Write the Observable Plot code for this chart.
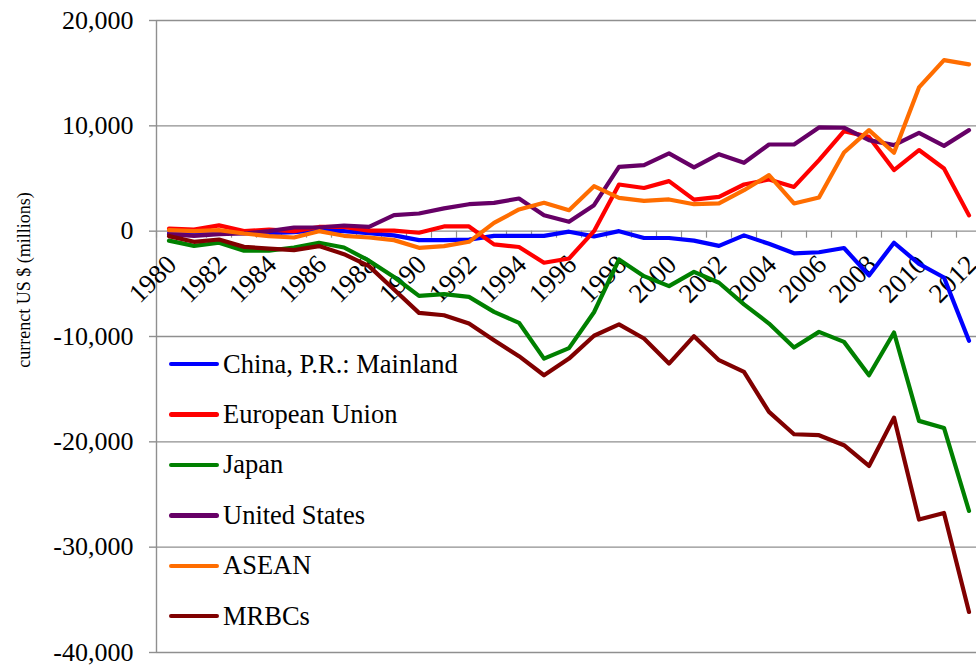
<!DOCTYPE html>
<html>
<head>
<meta charset="utf-8">
<script src="https://cdn.jsdelivr.net/npm/d3@7"></script>
<script src="https://cdn.jsdelivr.net/npm/@observablehq/plot@0.6"></script>
<style>
html, body { margin: 0; padding: 0; background: #fff; overflow: hidden; }
#wrap { position: relative; width: 976px; height: 671px; }
#legend { position: absolute; left: 169px; top: 339px; font-family: "Liberation Serif", Tinos, "Times New Roman", "DejaVu Serif", serif; font-size: 26.5px; color: #000; }
.row { display: flex; align-items: center; height: 50.4px; white-space: nowrap; }
.sw { width: 50px; height: 4.5px; border-radius: 3px; margin-right: 4px; }
#ytitle { position: absolute; left: 24px; top: 280px; transform: translate(-50%, -50%) rotate(-90deg); font-family: "Liberation Serif", Tinos, "Times New Roman", "DejaVu Serif", serif; font-size: 18px; white-space: nowrap; color: #000; }
svg text { font-family: "Liberation Serif", Tinos, "Times New Roman", "DejaVu Serif", serif !important; }
</style>
</head>
<body>
<div id="wrap"></div>
<script>
const years = [1980,1981,1982,1983,1984,1985,1986,1987,1988,1989,1990,1991,1992,1993,1994,1995,1996,1997,1998,1999,2000,2001,2002,2003,2004,2005,2006,2007,2008,2009,2010,2011,2012];
const labelYears = [1980,1982,1984,1986,1988,1990,1992,1994,1996,1998,2000,2002,2004,2006,2008,2010,2012];
const seriesNames = ["China, P.R.: Mainland","European Union","Japan","United States","ASEAN","MRBCs"];
const seriesColors = ["#0000ff","#ff0000","#008000","#660066","#ff6d00","#800000"];
const yTicks = [20000,10000,0,-10000,-20000,-30000,-40000];

const china = [-200,-150,-100,-200,-200,-100,100,0,-200,-400,-850,-850,-800,-450,-450,-450,-50,-500,0,-650,-650,-900,-1400,-400,-1200,-2100,-2000,-1600,-4200,-1100,-3100,-4400,-10400];
const eu = [250,150,550,0,150,0,400,400,50,50,-150,450,450,-1250,-1500,-3000,-2600,0,4430,4100,4750,3000,3250,4430,4900,4200,6750,9500,8950,5800,7700,5950,1500];
const japan = [-900,-1400,-1100,-1850,-1850,-1550,-1100,-1550,-2800,-4350,-6150,-5980,-6240,-7660,-8700,-12100,-11100,-7700,-2690,-4270,-5220,-3860,-4900,-6950,-8770,-11050,-9560,-10510,-13680,-9620,-18010,-18680,-26560];
const usa = [-290,-440,-290,-220,0,350,350,540,410,1520,1680,2160,2560,2690,3100,1520,890,2470,6110,6270,7380,6050,7310,6490,8230,8230,9850,9820,8640,8170,9340,8100,9590];
const asean = [100,0,100,-220,-470,-600,0,-440,-600,-850,-1580,-1420,-1010,790,2060,2690,1990,4270,3160,2880,3010,2560,2630,3890,5320,2630,3200,7470,9590,7440,13650,16240,15830];
const mrbcs = [-470,-1010,-790,-1490,-1650,-1800,-1420,-2180,-3320,-5540,-7760,-7980,-8770,-10350,-11870,-13680,-12100,-9930,-8850,-10190,-12570,-9970,-12250,-13360,-17160,-19280,-19370,-20320,-22290,-17700,-27380,-26750,-36150];

const seriesValues = [china, eu, japan, usa, asean, mrbcs];
const data = [];
seriesValues.forEach((vals, s) => vals.forEach((v, i) => data.push({year: years[i], value: v, series: seriesNames[s]})));
const boundaries = years.map(y => y + 0.5).concat([years[0] - 0.5]);

const fmtY = d => (d < 0 ? "-" : "") + Math.abs(d).toLocaleString("en-US");

const gray = "#8f8f8f";
const chart = Plot.plot({
  width: 976,
  height: 671,
  marginTop: 20,
  marginBottom: 19,
  marginLeft: 156,
  marginRight: 0,
  style: {fontFamily: "'Liberation Serif', Tinos, 'Times New Roman', 'DejaVu Serif', serif", background: "white", color: "black"},
  x: {domain: [years[0] - 0.5, years[years.length - 1] + 0.5], range: [156, 981], axis: null},
  y: {domain: [-40000, 20000]},
  color: {domain: seriesNames, range: seriesColors},
  marks: [
    Plot.ruleY(yTicks, {stroke: gray, strokeWidth: 1.4}),
    Plot.ruleX([years[0] - 0.5], {stroke: gray, strokeWidth: 1.4}),
    Plot.ruleX(boundaries, {x: d => d, y1: 0, y2: 0, insetBottom: -7, stroke: gray, strokeWidth: 1.2}),
    Plot.axisY({ticks: yTicks, tickSize: 7, tickPadding: 16, tickFormat: fmtY, stroke: gray, strokeWidth: 1.4, fill: "black", fontSize: 26, label: null, anchor: "left"}),
    Plot.text(labelYears, {x: d => d, y: 0, text: d => String(d), rotate: -45, textAnchor: "end", lineAnchor: "bottom", dx: 9, dy: 35, fontSize: 27, fill: "black"}),
    Plot.line(data, {x: "year", y: "value", z: "series", stroke: "series", strokeWidth: 4.2, strokeLinejoin: "round", strokeLinecap: "round"})
  ]
});

const wrap = document.getElementById("wrap");
wrap.appendChild(chart);

const legend = document.createElement("div");
legend.id = "legend";
seriesNames.forEach((name, i) => {
  const row = document.createElement("div");
  row.className = "row";
  const sw = document.createElement("div");
  sw.className = "sw";
  sw.style.background = seriesColors[i];
  const label = document.createElement("span");
  label.textContent = name;
  row.appendChild(sw);
  row.appendChild(label);
  legend.appendChild(row);
});
wrap.appendChild(legend);

const title = document.createElement("div");
title.id = "ytitle";
title.textContent = "currenct US $ (millions)";
wrap.appendChild(title);
</script>
</body>
</html>
